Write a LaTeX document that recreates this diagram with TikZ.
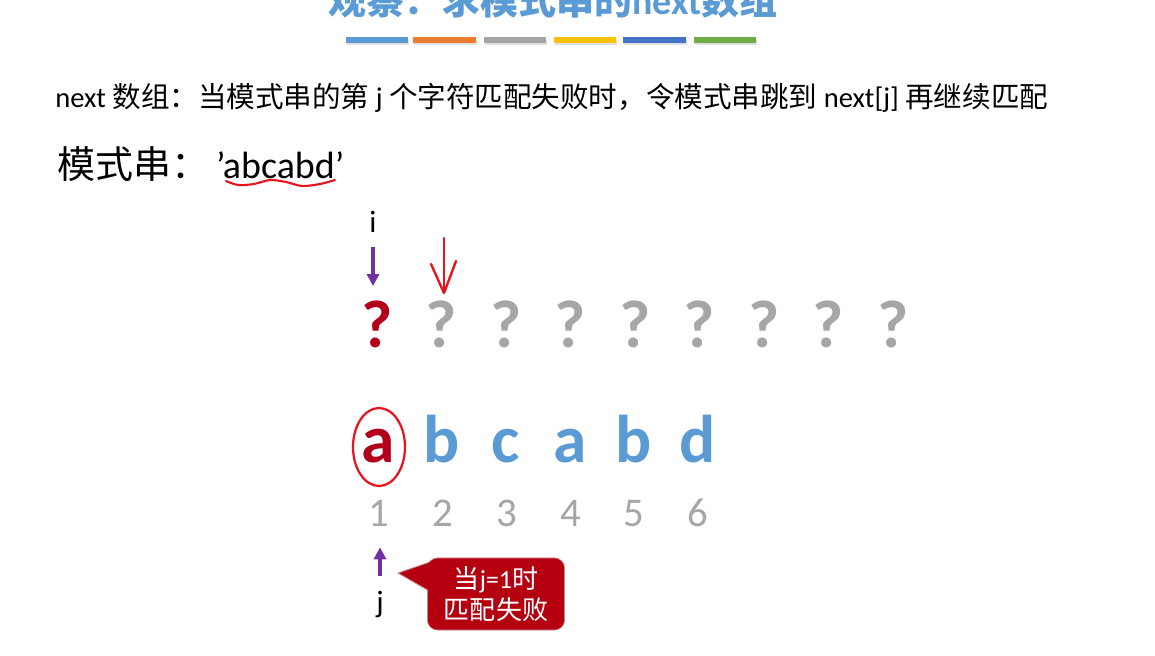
\documentclass[tikz,border=0pt]{standalone}
\usepackage{fontspec}
\setmainfont{Carlito}
\newfontfamily\cjk{Noto Sans CJK SC}
\usetikzlibrary{arrows.meta}
\definecolor{titleblue}{HTML}{5B9BD5}
\definecolor{barA}{HTML}{5B9BD5}
\definecolor{barB}{HTML}{ED7D31}
\definecolor{barC}{HTML}{A5A5A5}
\definecolor{barD}{HTML}{FFC000}
\definecolor{barE}{HTML}{4472C4}
\definecolor{barF}{HTML}{70AD47}
\definecolor{qgray}{HTML}{A6A6A6}
\definecolor{darkred}{HTML}{B2001A}
\definecolor{letterblue}{HTML}{5B9BD5}
\definecolor{ptrpurple}{HTML}{7030A0}
\definecolor{handred}{HTML}{E8141E}
\definecolor{callred}{HTML}{B4000F}
\definecolor{callborder}{HTML}{C98890}

\begin{document}
\begin{tikzpicture}[x=0.025cm,y=-0.025cm,
    qmark/.style={font=\fontsize{48}{48}\selectfont\bfseries, text=qgray, inner sep=0pt, anchor=base},
    letter/.style={font=\fontsize{48}{48}\selectfont\bfseries, text=letterblue, inner sep=0pt, anchor=base},
    idx/.style={font=\fontsize{29}{29}\selectfont, text=qgray, inner sep=0pt, anchor=base},
    ptrlabel/.style={font=\fontsize{22}{22}\selectfont, inner sep=0pt, anchor=base},
    ptr/.style={draw=ptrpurple, line width=2.2pt, -{Triangle[length=8.5pt,width=8.5pt]}},
    bar/.style={line width=4pt},
    hand/.style={draw=handred, line width=1.7pt, line cap=round, line join=round}]

    \useasboundingbox (0,0) rectangle (1155,656);
    \clip (0,0) rectangle (1155,656);
    \fill[white] (0,0) rectangle (1155,656);

    % Title (cut off at the top)
    \node[font=\fontsize{27}{27}\selectfont\bfseries, text=titleblue, anchor=base] (title) at (553,15)
        {{\cjk 观察：求模式串的}next{\cjk 数组}};

    % Colour bars
    \foreach \xa/\xb/\c in {346/408/barA, 413/476/barB, 484/546/barC, 554/616/barD, 623/686/barE, 694/756/barF} {
        \draw[bar, black!12] (\xa+1,42.5) -- (\xb+1,42.5);
        \draw[bar, \c] (\xa,40) -- (\xb,40);
    }

    % Definition
    \node[font=\fontsize{20.3}{20.3}\selectfont, anchor=base west, inner sep=0pt] (defline) at (55,108)
        {next {\cjk 数组：当模式串的第} j {\cjk 个字符匹配失败时，令模式串跳到} next[j] {\cjk 再继续匹配}};

    % Pattern
    \node[font=\fontsize{27}{27}\selectfont, anchor=base west, inner sep=0pt] (pattern) at (57,178)
        {{\cjk 模式串：}\hspace{5pt}’abcabd’};
    \draw[hand, line width=1.5pt] plot[smooth] coordinates {(226,181) (238,185) (254,184) (270,180) (286,182) (302,186) (320,184) (335,180)};

    % next array
    \node[qmark, text=darkred] (Q1) at (377,347) {?};
    \foreach \k in {2,...,9}
        \node[qmark] (Q\k) at ({377+(\k-1)*64.5},347) {?};

    % Pattern letters
    \node[letter, text=darkred] (L1) at (378,462) {a};
    \foreach \ch [count=\k from 2] in {b,c,a,b,d}
        \node[letter] (L\k) at ({378+(\k-1)*64},462) {\ch};

    % Indices
    \foreach \k in {1,...,6}
        \node[idx] (N\k) at ({379+(\k-1)*63.8},526) {\k};

    % i pointer
    \node[ptrlabel] (ilabel) at (373,232) {i};
    \draw[ptr, shorten <=10.5pt, shorten >=10pt] (ilabel.south) -- (ilabel.south |- Q1.north);

    % hand-drawn marks
    \draw[hand] (444,238) -- (444,292);
    \draw[hand] (431,264) -- (444,293) -- (456,261);
    \draw[hand, line width=1.6pt] (379,447) ellipse [x radius=26, y radius=39];

    % j pointer
    \node[ptrlabel] (jlabel) at (380,612) {j};
    \draw[ptr, shorten <=10pt, shorten >=15pt] (jlabel.north) -- (jlabel.north |- N1.south);

    % Callout
    \node[draw=callborder, fill=callred, rounded corners=7pt, text=white, align=center,
          minimum width=3.425cm, minimum height=1.8cm, inner sep=0pt,
          font=\fontsize{18.5}{22}\selectfont] (failnote) at (496,594)
        {{\cjk 当}j=1{\cjk 时}\\{\cjk 匹配失败}};
    \coordinate (jtip) at (398,573);
    \fill[callred] (jtip) -- (430,562) -- (430,591) -- cycle;
    \draw[callborder, line width=0.6pt] (failnote.west |- 0,563) -- (jtip) -- (failnote.west |- 0,590);
\end{tikzpicture}
\end{document}
